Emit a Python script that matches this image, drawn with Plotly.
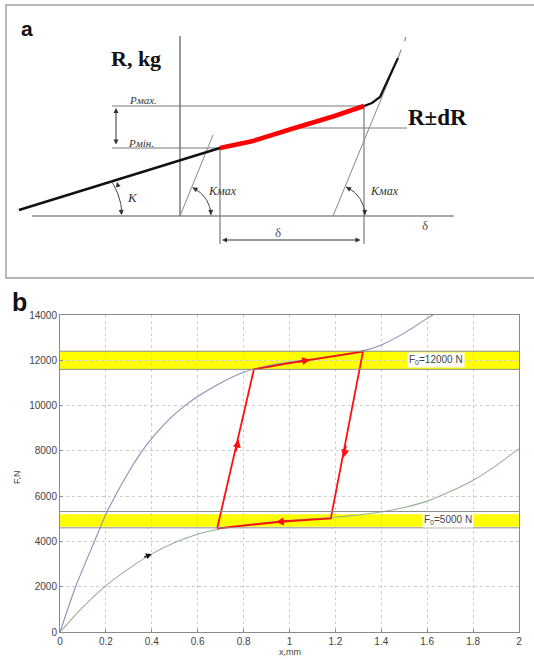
import numpy as np
import plotly.graph_objects as go

# ---------------- Panel a: schematic (drawing units = px of canvas) -------------
a_black_x = [19, 120, 180, 220]
a_black_y = [210, 179, 160, 148]
a_red_x = [220, 253, 293, 333, 364]
a_red_y = [148, 141, 128.5, 116.5, 106]
a_upper_x = [364, 372, 380, 398]
a_upper_y = [106, 103, 97, 58]
a_tangent_l_x = [180, 213]
a_tangent_l_y = [216, 135]
a_tangent_r_x = [333, 398]
a_tangent_r_y = [216, 58]
a_tangent_r_top_x = [398, 406]
a_tangent_r_top_y = [58, 37]

# ---------------- Panel b data ----------------
upper_x = [0, 0.068, 0.15, 0.2, 0.24, 0.3, 0.35, 0.4, 0.45, 0.5, 0.55, 0.6, 0.7, 0.8, 0.9, 1.0, 1.1, 1.2, 1.3, 1.4, 1.5, 1.6, 1.625]
upper_y = [0, 2000, 4000, 5200, 6000, 7080, 7880, 8555, 9130, 9620, 10040, 10400, 11000, 11470, 11750, 11920, 12060, 12200, 12370, 12680, 13200, 13850, 14000]
lower_x = [0, 0.1, 0.2, 0.3, 0.4, 0.5, 0.6, 0.7, 0.8, 0.9, 1.0, 1.1, 1.2, 1.3, 1.4, 1.5, 1.6, 1.7, 1.8, 1.9, 2.0]
lower_y = [0, 1100, 2050, 2800, 3450, 3950, 4320, 4560, 4720, 4830, 4930, 5000, 5070, 5170, 5300, 5500, 5780, 6200, 6700, 7350, 8100]
loop_x = [0.685, 0.845, 1.0, 1.32, 1.18, 0.97, 0.685]
loop_y = [4580, 11600, 11870, 12380, 5020, 4880, 4580]
band_hi = [11620, 12400]
band_hi_lines = [11600, 12400]
band_lo = [4650, 5200]
band_lo_lines = [4600, 5320]
x_ticks = [0, 0.2, 0.4, 0.6, 0.8, 1, 1.2, 1.4, 1.6, 1.8, 2]
x_tick_labels = ["0", "0.2", "0.4", "0.6", "0.8", "1", "1.2", "1.4", "1.6", "1.8", "2"]
y_ticks = [0, 2000, 4000, 6000, 8000, 10000, 12000, 14000]
y_tick_labels = ["0", "2000", "4000", "6000", "8000", "10000", "12000", "14000"]

W, H = 534, 660
fig = go.Figure()

GRAY = "#7a7a7a"
def seg(xs, ys, color=GRAY, width=1.1, dash=None):
    fig.add_trace(go.Scatter(x=xs, y=ys, mode="lines", xaxis="x", yaxis="y",
                             line=dict(color=color, width=width, dash=dash),
                             hoverinfo="skip", showlegend=False))

seg([180, 180], [36, 216], "#555", 1.2)          # vertical axis
seg([32, 454], [216, 216], "#555", 1.2)          # horizontal axis
seg([112, 364], [106, 106], GRAY, 1.2)           # Pmax line
seg([112, 220], [148, 148], GRAY, 1.2)           # Pmin line
seg([293, 407], [128, 128], GRAY, 1.2)           # R±dR line
seg([220, 220], [148, 244], GRAY, 1.2)
seg([364, 364], [106, 244], GRAY, 1.2)
seg(a_tangent_l_x, a_tangent_l_y, "#8a8a8a", 1.0)
seg(a_tangent_r_x, a_tangent_r_y, "#8a8a8a", 1.0)
seg(a_tangent_r_top_x, a_tangent_r_top_y, "#8a8a8a", 1.2, "dash")
seg(a_black_x, a_black_y, "#111", 2.4)
seg(a_upper_x, a_upper_y, "#111", 2.2)
seg(a_red_x, a_red_y, "#ff0000", 4.5)

def arc(cx, cy, r, a0, a1):
    t = np.radians(np.linspace(a0, a1, 30))
    seg(list(cx + r * np.cos(t)), list(cy - r * np.sin(t)), "#444", 1.0)

arc(180, 216, 31, 2, 66)
arc(333, 216, 32, 2, 66)
arc(60, 216, 62, 2, 34)

fig.add_trace(go.Scatter(x=upper_x, y=upper_y, mode="lines", xaxis="x2", yaxis="y2",
                         line=dict(color="#8a90b4", width=1.1, shape="spline", smoothing=0.6),
                         hoverinfo="skip", showlegend=False))
fig.add_trace(go.Scatter(x=lower_x, y=lower_y, mode="lines", xaxis="x2", yaxis="y2",
                         line=dict(color="#93b293", width=1.1, shape="spline", smoothing=0.6),
                         hoverinfo="skip", showlegend=False))
fig.add_trace(go.Scatter(x=loop_x, y=loop_y, mode="lines", xaxis="x2", yaxis="y2",
                         line=dict(color="#ff1010", width=1.8),
                         hoverinfo="skip", showlegend=False))

shapes = []
shapes.append(dict(type="rect", xref="x", yref="y", x0=6, x1=545, y0=5, y1=278,
                   line=dict(color="#a0a0a0", width=1.5), fillcolor="rgba(0,0,0,0)"))
for (y0, y1) in [band_hi, band_lo]:
    shapes.append(dict(type="rect", xref="x2", yref="y2", x0=0, x1=2, y0=y0, y1=y1,
                       fillcolor="#ffff00", line=dict(width=0), layer="below"))
for yv in band_hi_lines + band_lo_lines:
    shapes.append(dict(type="line", xref="x2", yref="y2", x0=0, x1=2, y0=yv, y1=yv,
                       line=dict(color="#8c8c8c", width=1)))
fig.update_layout(shapes=shapes)

ann = []
def txt(x, y, s, size, family="Liberation Serif", color="#111", xanchor="center", bold=False, italic=False):
    if bold:
        s = "<b>" + s + "</b>"
    if italic:
        s = "<i>" + s + "</i>"
    ann.append(dict(x=x, y=y, xref="x", yref="y", text=s, showarrow=False,
                    font=dict(size=size, family=family, color=color), xanchor=xanchor, yanchor="middle"))

txt(27, 28, "a", 21, "Liberation Sans", bold=True)
txt(19, 302, "b", 25, "Liberation Sans", bold=True)
txt(136, 58, "R, kg", 22, bold=True)
txt(437, 117, "R±dR", 23, bold=True)
txt(143, 100, "Pмах.", 11, italic=True, color="#333")
txt(141, 143, "Pмін.", 11, italic=True, color="#333")
txt(132, 197, "K", 13, italic=True, color="#333")
txt(222, 191, "Kмах", 12, italic=True, color="#333")
txt(384, 191, "Kмах", 12, italic=True, color="#333")
txt(278, 232, "δ", 13, color="#555")
txt(425, 225, "δ", 13, color="#555")

def arrow(x, y, ax, ay, xref="x", yref="y", color="#333", head=2, size=1.0, width=1.0, side="end"):
    ann.append(dict(x=x, y=y, ax=ax, ay=ay, xref=xref, yref=yref, axref=xref, ayref=yref,
                    text="", showarrow=True, arrowhead=head, arrowsize=size, arrowwidth=width,
                    arrowcolor=color, arrowside=side, startarrowhead=head, startarrowsize=size))

arrow(116, 108, 116, 146, side="end+start")
arrow(222, 240, 362, 240, side="end+start")
arrow(211, 215, 210.6, 208)
arrow(192.5, 187.6, 196, 189.5)
arrow(365, 215, 364.6, 208)
arrow(346, 187, 349.5, 189)
arrow(121.5, 215, 121, 208)
arrow(117, 182, 118.5, 188)

arrow(0.778, 8500, 0.765, 7900, "x2", "y2", "#ff1010", 2, 1.0, 1.6)
arrow(1.235, 7700, 1.248, 8300, "x2", "y2", "#ff1010", 2, 1.0, 1.6)
arrow(1.09, 12020, 1.03, 11920, "x2", "y2", "#ff1010", 2, 1.0, 1.6)
arrow(0.94, 4855, 1.0, 4900, "x2", "y2", "#ff1010", 2, 1.0, 1.6)
arrow(0.4, 3450, 0.36, 3280, "x2", "y2", "#111", 2, 1.0, 1.2)

for (xv, yv, s) in [(1.64, 12000, "F<sub>0</sub>=12000 N"), (1.69, 4950, "F<sub>0</sub>=5000 N")]:
    ann.append(dict(x=xv, y=yv, xref="x2", yref="y2", text=s, showarrow=False,
                    font=dict(size=10, family="Liberation Sans", color="#444"),
                    bgcolor="white", borderpad=1))

ann.append(dict(x=17, y=477, xref="x", yref="y", text="F,N", showarrow=False, textangle=-90,
                font=dict(size=9, family="Liberation Sans", color="#444")))
ann.append(dict(x=290, y=652, xref="x", yref="y", text="x,mm", showarrow=False,
                font=dict(size=9, family="Liberation Sans", color="#444")))
fig.update_layout(annotations=ann)

axis_common = dict(showgrid=True, gridcolor="#cfcfcf", griddash="dot", gridwidth=1,
                   showline=True, linecolor="#8a8a8a", linewidth=1, mirror=True,
                   ticks="inside", ticklen=3, tickcolor="#8a8a8a", zeroline=False,
                   tickfont=dict(size=10, family="Liberation Sans", color="#444"), automargin=False)
fig.update_layout(
    width=W, height=H, margin=dict(l=0, r=0, t=0, b=0, pad=0),
    paper_bgcolor="white", plot_bgcolor="rgba(0,0,0,0)",
    xaxis=dict(domain=[0, 1], range=[0, W], visible=False, fixedrange=True),
    yaxis=dict(domain=[0, 1], range=[H, 0], visible=False, fixedrange=True),
    xaxis2=dict(domain=[60 / W, 519 / W], range=[0, 2], anchor="y2",
                tickvals=x_ticks, ticktext=x_tick_labels, **axis_common),
    yaxis2=dict(domain=[28 / H, 345 / H], range=[0, 14000], anchor="x2",
                tickvals=y_ticks, ticktext=y_tick_labels, **axis_common),
)

fig.write_html("out.html", config={"displayModeBar": False},
               post_script="document.body.style.margin='0';document.body.style.overflow='hidden';")
